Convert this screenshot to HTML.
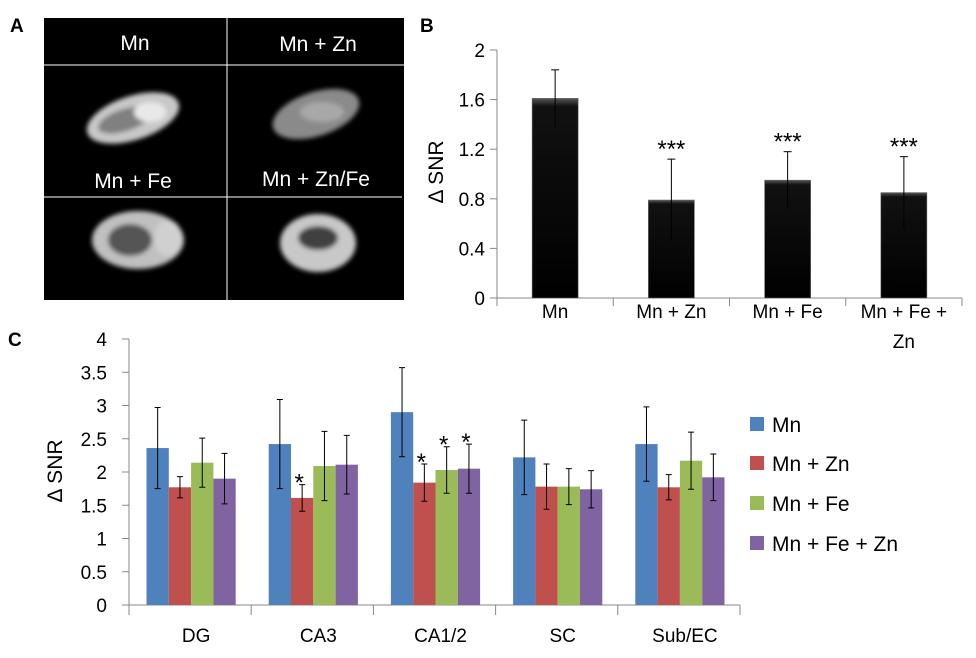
<!DOCTYPE html>
<html><head><meta charset="utf-8"><style>
html,body{margin:0;padding:0;background:#fff;}
svg{display:block;font-family:"Liberation Sans",sans-serif;}
</style></head><body>
<svg id="fig" width="976" height="658" viewBox="0 0 976 658" xmlns="http://www.w3.org/2000/svg">
<defs>
<filter id="blur" x="-30%" y="-30%" width="160%" height="160%"><feGaussianBlur stdDeviation="2.5"/></filter>
<linearGradient id="barB" x1="0" y1="0" x2="0" y2="1">
<stop offset="0" stop-color="#555"/><stop offset="0.04" stop-color="#111"/><stop offset="1" stop-color="#000"/></linearGradient>
</defs>
<g>
<text x="10" y="32" font-size="19" font-weight="bold">A</text>
<rect x="44" y="18" width="360" height="282" fill="#000"/>
<line x1="227" y1="18" x2="227" y2="300" stroke="#fff" stroke-width="1"/>
<line x1="44" y1="65" x2="404" y2="65" stroke="#fff" stroke-width="1"/>
<line x1="44" y1="197" x2="402" y2="197" stroke="#fff" stroke-width="1"/>
<g fill="#fff" font-size="21" text-anchor="middle">
<text x="135" y="50">Mn</text>
<text x="318" y="51">Mn + Zn</text>
<text x="133" y="188">Mn + Fe</text>
<text x="316" y="186">Mn + Zn/Fe</text>
</g>
<g filter="url(#blur)">
<g>
<ellipse cx="133" cy="118" rx="48" ry="22" transform="rotate(-18 133 118)" fill="#c8c8c8"/>
<ellipse cx="125" cy="120" rx="28" ry="11" transform="rotate(-18 125 120)" fill="#808080"/>
<ellipse cx="150" cy="112" rx="16" ry="10" fill="#e8e8e8"/>
</g>
<g>
<ellipse cx="316" cy="114" rx="45" ry="22" transform="rotate(-18 316 114)" fill="#8a8a8a"/>
<ellipse cx="322" cy="112" rx="22" ry="10" fill="#a8a8a8"/>
</g>
<g>
<ellipse cx="138" cy="240" rx="46" ry="29" fill="#c0c0c0"/>
<ellipse cx="130" cy="240" rx="22" ry="16" fill="#555"/>
<ellipse cx="168" cy="238" rx="14" ry="18" fill="#d0d0d0"/>
</g>
<g>
<ellipse cx="318" cy="243" rx="38" ry="29" fill="#c8c8c8"/>
<ellipse cx="318" cy="238" rx="20" ry="12" fill="#404040"/>
</g>
</g>
</g>
<g id="panelB">
<text x="420" y="32" font-size="19" font-weight="bold">B</text>
</g>
<g id="panelC">
<text x="8" y="346" font-size="19" font-weight="bold">C</text>
</g>
</svg>
<script>
const bCategories = ["Mn", "Mn + Zn", "Mn + Fe", "Mn + Fe + Zn"];
const bValues = [1.61, 0.79, 0.95, 0.85];
const bErrors = [0.23, 0.33, 0.23, 0.29];
const bStars = ["", "***", "***", "***"];
const bTicks = [0, 0.4, 0.8, 1.2, 1.6, 2];

const cCategories = ["DG", "CA3", "CA1/2", "SC", "Sub/EC"];
const cSeriesNames = ["Mn", "Mn + Zn", "Mn + Fe", "Mn + Fe + Zn"];
const cMn = [2.36, 2.42, 2.90, 2.22, 2.42];
const cMnZn = [1.77, 1.61, 1.84, 1.78, 1.77];
const cMnFe = [2.14, 2.09, 2.03, 1.78, 2.17];
const cMnFeZn = [1.90, 2.11, 2.05, 1.74, 1.92];
const cErrMn = [0.61, 0.67, 0.67, 0.56, 0.56];
const cErrMnZn = [0.16, 0.20, 0.28, 0.34, 0.19];
const cErrMnFe = [0.37, 0.52, 0.35, 0.27, 0.43];
const cErrMnFeZn = [0.38, 0.44, 0.37, 0.28, 0.35];
const cStarsMnZn = ["", "*", "*", "", ""];
const cStarsMnFe = ["", "", "*", "", ""];
const cStarsMnFeZn = ["", "", "*", "", ""];
const cTicks = [0, 0.5, 1, 1.5, 2, 2.5, 3, 3.5, 4];

const NS = "http://www.w3.org/2000/svg";
function mk(parent, tag, attrs, text) {
  const e = document.createElementNS(NS, tag);
  for (const k in attrs) e.setAttribute(k, attrs[k]);
  if (text !== undefined) e.textContent = text;
  parent.appendChild(e);
  return e;
}

// Panel B
(function(){
  const g = document.getElementById('panelB');
  const x0 = 497, x1 = 962, yTop = 50, yBot = 298, yMax = 2;
  const y = v => yBot - v / yMax * (yBot - yTop);
  const bw = (x1 - x0) / bCategories.length;
  const ax = mk(g, 'line', {x1: x0, y1: yTop, x2: x0, y2: yBot, stroke: '#888', 'stroke-width': 1});
  
  
  const xa = mk(g, 'line', {x1: x0, y1: yBot, x2: x1, y2: yBot, stroke: '#888', 'stroke-width': 1});
  
  
  bTicks.forEach(t => {
    const tk = mk(g, 'line', {x1: x0 - 7, y1: y(t), x2: x0, y2: y(t), stroke: '#888'});
    
    
    const tl = mk(g, 'text', {x: x0 - 12, y: y(t) + 7, 'font-size': 19, 'text-anchor': 'end'}, String(t));
    
    
  });
  for (let i = 0; i <= bCategories.length; i++) {
    const tk = mk(g, 'line', {x1: x0 + i * bw, y1: yBot, x2: x0 + i * bw, y2: yBot + 8, stroke: '#888'});
    
    
  }
  const yt = mk(g, 'text', {x: 0, y: 0, 'font-size': 21, 'text-anchor': 'middle', transform: 'translate(443 172) rotate(-90)'}, '\u0394 SNR');
  
  
  bCategories.forEach((c, i) => {
    const cx = x0 + (i + 0.5) * bw;
    const w = 46;
    const r = mk(g, 'rect', {x: cx - w / 2, y: y(bValues[i]), width: w, height: yBot - y(bValues[i]), fill: 'url(#barB)', stroke: '#666', 'stroke-width': 0.6});
    
    
    const eb = mk(g, 'line', {x1: cx, y1: y(bValues[i] + bErrors[i]), x2: cx, y2: y(bValues[i] - bErrors[i]), stroke: '#000', 'stroke-width': 1});
    
    
    const cap = mk(g, 'line', {x1: cx - 4, y1: y(bValues[i] + bErrors[i]), x2: cx + 4, y2: y(bValues[i] + bErrors[i]), stroke: '#000'});
    
    
    if (bStars[i]) {
      const s = mk(g, 'text', {x: cx, y: y(bValues[i] + bErrors[i]) - 2, 'font-size': 24, 'text-anchor': 'middle'}, bStars[i]);
      
      
    }
    const lines = c === 'Mn + Fe + Zn' ? ['Mn + Fe +', 'Zn'] : [c];
    lines.forEach((ln, k) => {
      const t = mk(g, 'text', {x: cx, y: 318 + k * 30, 'font-size': 19, 'text-anchor': 'middle'}, ln);
      
      
    });
  });
})();

// Panel C
(function(){
  const g = document.getElementById('panelC');
  const x0 = 129, x1 = 740, yTop = 339, yBot = 605, yMax = 4;
  const y = v => yBot - v / yMax * (yBot - yTop);
  const cw = (x1 - x0) / cCategories.length;
  const series = [cMn, cMnZn, cMnFe, cMnFeZn];
  const errs = [cErrMn, cErrMnZn, cErrMnFe, cErrMnFeZn];
  const stars = [null, cStarsMnZn, cStarsMnFe, cStarsMnFeZn];
  const colors = ['#4f81bd', '#c0504d', '#9bbb59', '#8064a2'];
  const ax = mk(g, 'line', {x1: x0, y1: yTop, x2: x0, y2: yBot, stroke: '#888'});
  
  
  const xa = mk(g, 'line', {x1: x0 - 7, y1: yBot, x2: x1, y2: yBot, stroke: '#888'});
  
  
  cTicks.forEach(t => {
    const tk = mk(g, 'line', {x1: x0 - 7, y1: y(t), x2: x0, y2: y(t), stroke: '#888'});
    
    
    const tl = mk(g, 'text', {x: x0 - 22, y: y(t) + 7, 'font-size': 19, 'text-anchor': 'end'}, String(t));
    
    
  });
  for (let i = 0; i <= cCategories.length; i++) {
    const tk = mk(g, 'line', {x1: x0 + i * cw, y1: yBot, x2: x0 + i * cw, y2: yBot + 10, stroke: '#888'});
    
    
  }
  const yt = mk(g, 'text', {x: 0, y: 0, 'font-size': 21, 'text-anchor': 'middle', transform: 'translate(62 471) rotate(-90)'}, '\u0394 SNR');
  
  
  const bw = 22.3;
  cCategories.forEach((c, i) => {
    const gx = x0 + i * cw + 17.5;
    series.forEach((s, j) => {
      const bx = gx + j * bw;
      const r = mk(g, 'rect', {x: bx, y: y(s[i]), width: bw, height: yBot - y(s[i]), fill: colors[j]});
      
      
      const cx = bx + bw / 2;
      const hi = y(s[i] + errs[j][i]), lo = y(s[i] - errs[j][i]);
      const eb = mk(g, 'path', {d: `M${cx} ${hi}V${lo}M${cx-3} ${hi}H${cx+3}M${cx-3} ${lo}H${cx+3}`, stroke: '#000', 'stroke-width': 1, fill: 'none'});
      
      
      if (stars[j] && stars[j][i]) {
        const st = mk(g, 'text', {x: cx - 3, y: hi + 6, 'font-size': 24, 'text-anchor': 'middle'}, stars[j][i]);
        
        
      }
    });
    const t = mk(g, 'text', {x: x0 + (i + 0.5) * cw + 6, y: 642, 'font-size': 19, 'text-anchor': 'middle'}, c);
    
    
  });
  const legendY = [424, 463, 503, 543];
  cSeriesNames.forEach((n, j) => {
    const sq = mk(g, 'rect', {x: 750, y: legendY[j] - 7, width: 14, height: 14, fill: colors[j]});
    
    
    const t = mk(g, 'text', {x: 772, y: legendY[j] + 8, 'font-size': 21}, n);
    
    
  });
})();
</script>
</body></html>
